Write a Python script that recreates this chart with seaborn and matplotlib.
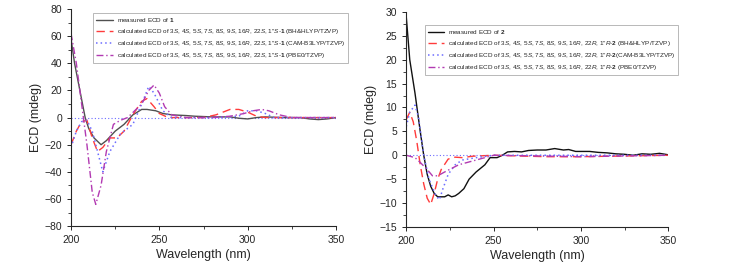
import numpy as np
import pandas as pd
import matplotlib
matplotlib.use('Agg')
import matplotlib.pyplot as plt
import seaborn as sns
from matplotlib.ticker import MultipleLocator

# ---- data ----
# compound 1
meas1_x = [200, 202, 205, 208, 210, 213, 217, 220, 225, 230, 235, 240, 243, 248, 252, 257, 265, 270, 280, 290, 295, 300, 305, 310, 320, 330, 335, 340, 345, 350]
meas1_y = [58, 40, 20, 0, -8, -15, -20, -17, -10, -5, 2, 6, 6, 5, 3, 2, 1.5, 1, 0.5, 0.5, -0.5, -1, 0, 0.5, 0, 0, -1, -1.5, -1, 0]
bh1_x = [200, 203, 206, 209, 212, 215, 218, 222, 226, 230, 235, 240, 243, 247, 250, 255, 265, 275, 282, 290, 295, 300, 305, 310, 350]
bh1_y = [-20, -10, -3, -2, -15, -25, -22, -15, -15, -10, 2, 12, 14, 8, 3, 0, 0, 0, 2, 6, 6, 4, 1, 0, 0]
cam1_x = [200, 203, 206, 209, 212, 215, 218, 222, 228, 235, 240, 244, 247, 252, 257, 280, 295, 300, 305, 310, 315, 350]
cam1_y = [-22, -10, -3, -2, -10, -25, -40, -25, -12, -5, 10, 23, 18, 5, 0, 0, 1, 5, 5, 3, 0, 0]
pbe1_x = [200, 203, 206, 209, 212, 214, 217, 220, 224, 228, 232, 236, 240, 244, 247, 250, 253, 257, 265, 280, 290, 298, 303, 308, 312, 318, 325, 350]
pbe1_y = [62, 40, 10, -20, -55, -64, -50, -25, -5, -2, 0, 5, 10, 20, 24, 18, 8, 2, 0, 0, 1, 3, 5, 6, 5, 2, 0, 0]

# compound 2
meas2_x = [200, 202, 205, 208, 210, 212, 214, 216, 218, 220, 222, 224, 226, 228, 230, 233, 236, 240, 245, 248, 252, 255, 258, 262, 266, 270, 275, 280, 285, 290, 293, 297, 300, 305, 310, 315, 320, 325, 330, 335, 340, 345, 350]
meas2_y = [29, 20, 13, 5, 0, -4, -6.5, -8, -8.7, -8.7, -8.7, -8.3, -8.7, -8.5, -8, -7, -5, -3.5, -2, -0.5, -0.5, 0, 0.7, 0.8, 0.7, 1, 1.1, 1.1, 1.4, 1.1, 1.2, 0.8, 0.8, 0.8, 0.6, 0.5, 0.3, 0.2, 0, 0.3, 0.2, 0.4, 0.1]
bh2_x = [200, 202, 204, 206, 208, 210, 212, 214, 216, 218, 220, 224, 228, 232, 238, 250, 280, 300, 350]
bh2_y = [7.5, 9, 7, 3, -2, -6, -9, -10.3, -8, -5, -3, -0.8, -0.4, -0.5, -0.2, 0, -0.3, -0.3, 0]
cam2_x = [200, 202, 205, 207, 210, 213, 217, 219, 221, 224, 228, 232, 240, 250, 350]
cam2_y = [6, 9, 10.5, 8, 0, -5, -8.5, -9.3, -7, -4, -2, -1, -0.5, 0, 0]
pbe2_x = [200, 205, 208, 212, 215, 218, 222, 230, 240, 250, 300, 350]
pbe2_y = [0, -0.5, -1.5, -3, -4.3, -4.3, -3.5, -2, -1, 0, -0.3, 0]

labels1 = ["measured ECD of $\\mathbf{1}$",
           "calculated ECD of 3$S$, 4$S$, 5$S$, 7$S$, 8$S$, 9$S$, 16$R$, 22$S$, 1\u2033$S$-$\\mathbf{1}$ (BH&HLYP/TZVP)",
           "calculated ECD of 3$S$, 4$S$, 5$S$, 7$S$, 8$S$, 9$S$, 16$R$, 22$S$, 1\u2033$S$-$\\mathbf{1}$ (CAM-B3LYP/TZVP)",
           "calculated ECD of 3$S$, 4$S$, 5$S$, 7$S$, 8$S$, 9$S$, 16$R$, 22$S$, 1\u2033$S$-$\\mathbf{1}$ (PBE0/TZVP)"]
labels2 = ["measured ECD of $\\mathbf{2}$",
           "calculated ECD of 3$S$, 4$S$, 5$S$, 7$S$, 8$S$, 9$S$, 16$R$, 22$R$, 1\u2033$R$-$\\mathbf{2}$ (BH&HLYP/TZVP)",
           "calculated ECD of 3$S$, 4$S$, 5$S$, 7$S$, 8$S$, 9$S$, 16$R$, 22$R$, 1\u2033$R$-$\\mathbf{2}$(CAM-B3LYP/TZVP)",
           "calculated ECD of 3$S$, 4$S$, 5$S$, 7$S$, 8$S$, 9$S$, 16$R$, 22$R$, 1\u2033$R$-$\\mathbf{2}$ (PBE0/TZVP)"]

sns.set_style('ticks')
plt.rcParams['font.family'] = ['Liberation Sans', 'DejaVu Sans']
plt.rcParams['mathtext.fontset'] = 'custom'
plt.rcParams['mathtext.rm'] = 'Liberation Sans'
plt.rcParams['mathtext.it'] = 'Liberation Sans:italic'
plt.rcParams['mathtext.bf'] = 'Liberation Sans:bold'

red = '#ff3b3b'
blue = '#6b6bff'
purple = '#b23ab2'

fig = plt.figure(figsize=(7.4, 2.66), dpi=100)
ax1 = fig.add_axes([0.096, 0.150, 0.358, 0.816])
ax2 = fig.add_axes([0.549, 0.147, 0.354, 0.808])


def draw(ax, series, labels, meas_color):
    styles = [(meas_color, '-', 1.0), (red, (0, (6, 3.5)), 1.0), (blue, (0, (1, 2)), 1.1), (purple, (0, (5, 2, 1, 2)), 1.0)]
    ax.axhline(0, color=blue, ls=(0, (1, 2)), lw=0.8, zorder=0)
    for (xs, ys), lab, (c, ls, lw) in zip(series, labels, styles):
        df = pd.DataFrame({'x': xs, 'y': ys})
        sns.lineplot(data=df, x='x', y='y', ax=ax, color=c, linestyle=ls, lw=lw, label=lab)
    ax.set_xlim(200, 350)
    ax.set_xticks([200, 250, 300, 350])
    ax.xaxis.set_minor_locator(MultipleLocator(25))
    ax.set_xlabel('Wavelength (nm)', fontsize=9, labelpad=3)
    ax.set_ylabel('ECD (mdeg)', fontsize=9, labelpad=2)
    ax.tick_params(labelsize=7.5, length=3, width=0.7)
    ax.tick_params(which='minor', length=2, width=0.6)
    for s in ['top', 'right']:
        ax.spines[s].set_visible(False)
    for s in ['left', 'bottom']:
        ax.spines[s].set_linewidth(0.8)
    ax.get_legend().remove()


draw(ax1, [(meas1_x, meas1_y), (bh1_x, bh1_y), (cam1_x, cam1_y), (pbe1_x, pbe1_y)], labels1, '#505050')
ax1.set_ylim(-80, 80)
ax1.set_yticks(range(-80, 81, 20))
ax1.yaxis.set_minor_locator(MultipleLocator(10))

draw(ax2, [(meas2_x, meas2_y), (bh2_x, bh2_y), (cam2_x, cam2_y), (pbe2_x, pbe2_y)], labels2, '#111111')
ax2.set_ylim(-15, 30)
ax2.set_yticks(range(-15, 31, 5))
ax2.yaxis.set_minor_locator(MultipleLocator(2.5))

for ax, anchor in [(ax1, (0.126, 0.951)), (ax2, (0.574, 0.906))]:
    h, l = ax.get_legend_handles_labels()
    leg = fig.legend(h, l, loc='upper left', bbox_to_anchor=anchor, fontsize=4.6,
                     frameon=True, fancybox=False, edgecolor='#999999', borderpad=0.45,
                     labelspacing=0.5, handlelength=2.6, handletextpad=0.6, borderaxespad=0)
    leg.get_frame().set_linewidth(0.6)

fig.savefig('out.png', dpi=100)
